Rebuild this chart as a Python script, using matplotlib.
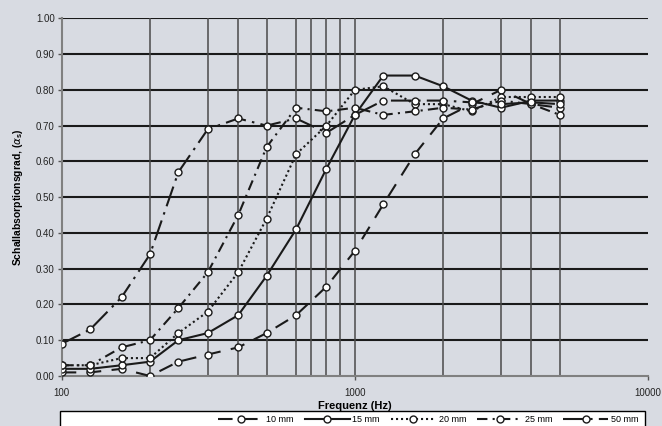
import matplotlib
matplotlib.use("Agg")
import matplotlib.pyplot as plt
from matplotlib.patches import Rectangle
from matplotlib.ticker import FixedLocator, NullLocator

plt.rcParams['font.family'] = ['Liberation Sans', 'DejaVu Sans']
plt.rcParams['mathtext.fontset'] = 'custom'
plt.rcParams['mathtext.bf'] = 'Liberation Sans:bold'
plt.rcParams['mathtext.rm'] = 'Liberation Sans'

# third-octave band centre frequencies
freq = [100, 125, 160, 200, 250, 315, 400, 500, 630, 800, 1000,
        1250, 1600, 2000, 2500, 3150, 4000, 5000]

# absorption per thickness
a_10mm = [0.01, 0.01, 0.02, 0.00, 0.04, 0.06, 0.08, 0.12, 0.17, 0.25, 0.35,
          0.48, 0.62, 0.72, 0.76, 0.80, 0.76, 0.75]
a_15mm = [0.02, 0.02, 0.03, 0.04, 0.10, 0.12, 0.17, 0.28, 0.41, 0.58, 0.73,
          0.84, 0.84, 0.81, 0.77, 0.75, 0.77, 0.77]
a_20mm = [0.03, 0.03, 0.05, 0.05, 0.12, 0.18, 0.29, 0.44, 0.62, 0.70, 0.80,
          0.81, 0.76, 0.76, 0.74, 0.78, 0.78, 0.78]
a_25mm = [0.03, 0.03, 0.08, 0.10, 0.19, 0.29, 0.45, 0.64, 0.75, 0.74, 0.75,
          0.73, 0.74, 0.75, 0.745, 0.77, 0.76, 0.73]
a_50mm = [0.09, 0.13, 0.22, 0.34, 0.57, 0.69, 0.72, 0.70, 0.72, 0.68, 0.73,
          0.77, 0.77, 0.77, 0.765, 0.76, 0.765, 0.76]

labels = ['10 mm', '15 mm', '20 mm', '25 mm', '50 mm']
vlines = [200, 315, 400, 500, 630, 710, 800, 890, 1000, 2000, 3150, 4000, 5000]
yticks = [0.0, 0.1, 0.2, 0.3, 0.4, 0.5, 0.6, 0.7, 0.8, 0.9, 1.0]

bg = '#d8dbe2'

fig = plt.figure(figsize=(6.62, 4.26), dpi=100, facecolor=bg)
ax = fig.add_axes([0.0932, 0.1174, 0.8858, 0.8396])
ax.set_facecolor(bg)

# grid
for y in yticks[1:]:
    ax.axhline(y, color='#1a1a1a', lw=1.5, zorder=1)
for x in vlines:
    ax.axvline(x, color='#4a4a4a', lw=1.1, zorder=1)

styles = [(0, (7, 5)), '-', (0, (1, 1.4)), (0, (5, 2.5, 1, 2.5)),
          (0, (10, 3, 1.2, 3))]
series = [a_10mm, a_15mm, a_20mm, a_25mm, a_50mm]
for vals, ls, lab in zip(series, styles, labels):
    ax.plot(freq, vals, color='#1a1a1a', lw=1.5, ls=ls, marker='o', ms=5,
            mfc='white', mec='#1a1a1a', mew=1.0, label=lab, zorder=3)

ax.set_xscale('log')
ax.set_xlim(100, 10000)
ax.set_ylim(0, 1.0)
ax.xaxis.set_major_locator(FixedLocator([100, 1000, 10000]))
ax.xaxis.set_minor_locator(NullLocator())
ax.set_xticklabels(['100', '1000', '10000'])
ax.set_yticks(yticks)
ax.set_yticklabels(['%.2f' % v for v in yticks])
ax.tick_params(axis='both', labelsize=7, length=3, width=1, color='#555555',
               labelcolor='#222222', pad=2)
ax.tick_params(axis='x', pad=6)

for s in ['top', 'right']:
    ax.spines[s].set_visible(False)
for s in ['left', 'bottom']:
    ax.spines[s].set_color('#808080')
    ax.spines[s].set_linewidth(1.5)

ax.set_xlabel('Frequenz (Hz)', fontsize=8, fontweight='bold', labelpad=2)
ax.set_ylabel(r'Schallabsorptionsgrad, ($\alpha_{\mathbf{s}}$)', fontsize=7.5,
              fontweight='bold', labelpad=8)

# white legend box under the chart
box = Rectangle((0.0906, -0.05), 0.884, 0.086, transform=fig.transFigure,
                facecolor='white', edgecolor='black', lw=1.0, zorder=0)
fig.patches.append(box)
leg = fig.legend(loc='center right', bbox_to_anchor=(0.97, 0.015), ncol=5,
                 frameon=False, fontsize=6.5, handlelength=5,
                 columnspacing=1.2, handletextpad=0.3, borderaxespad=0)

fig.savefig('out.png', dpi=100, facecolor=bg)
